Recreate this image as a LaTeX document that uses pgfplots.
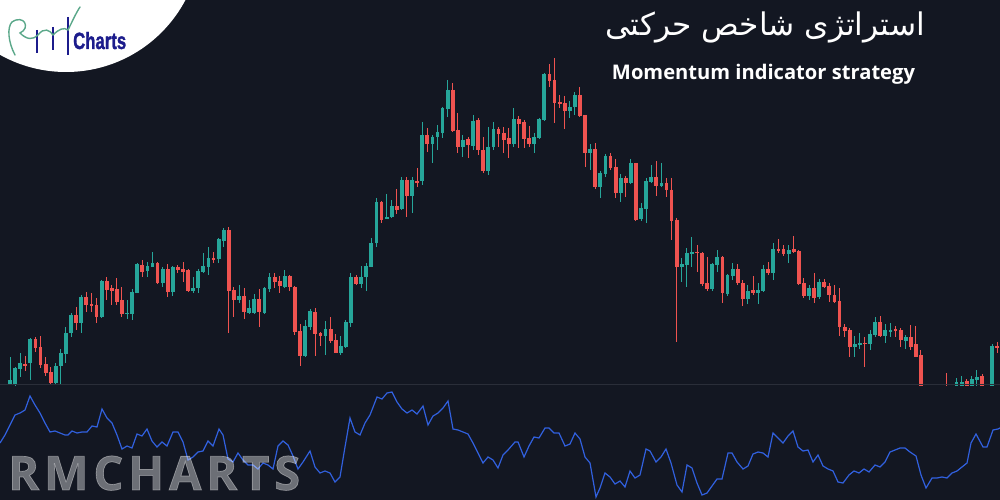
\documentclass[border=0pt]{standalone}
\usepackage{fontspec}
\usepackage{pgfplots}
\pgfplotsset{compat=1.18}
\usepackage{pgfplotstable}
\setmainfont{Open Sans}
\newfontfamily\arabicfont[Script=Arabic]{DejaVu Sans}
\newfontfamily\wmfont[LetterSpace=10, FakeBold=1.5]{Open Sans}
\newfontfamily\logofont[FakeBold=1.5]{Liberation Sans}
\TeXXeTstate=1

\definecolor{bg}{HTML}{131722}
\definecolor{upc}{HTML}{26A69A}
\definecolor{dnc}{HTML}{EF5350}
\definecolor{momc}{HTML}{3160DE}
\definecolor{sep}{HTML}{2A2E39}
\definecolor{navy}{HTML}{1C1C8C}
\definecolor{logog}{HTML}{5BA88A}

% candles in pixel rows (y grows downwards): i o h l c
\pgfplotstableread{
i o h l c
0 384 357 385 380
1 385 367 386 368
2 369 353 377 363
4 363 338 380 339
9 383 363 385 366
10 366 349 385 353
11 354 327 363 333
12 333 313 337 315
14 323 295 333 297
18 317 280 318 281
23 314 300 319 313
24 314 289 320 292
25 293 263 293 264
27 271 262 277 266
28 267 252 267 263
30 283 267 287 269
32 292 266 296 267
36 291 277 293 288
37 288 269 293 271
38 272 253 273 266
39 267 247 275 258
41 259 238 263 239
42 241 228 247 230
45 300 285 303 296
47 313 300 314 308
48 313 294 314 299
50 313 287 314 288
51 289 273 292 277
54 287 270 288 276
58 356 320 357 326
59 327 309 330 311
62 336 321 355 329
65 353 336 355 346
66 347 320 348 322
67 323 273 327 277
69 284 266 288 277
70 277 263 291 266
71 267 238 267 243
72 243 198 247 202
74 219 194 219 217
75 217 200 218 206
77 209 177 210 180
79 196 177 213 180
81 181 122 185 135
83 144 135 163 137
84 137 125 150 132
85 133 107 138 108
86 109 80 117 90
89 147 135 157 140
91 146 115 150 121
94 171 127 175 147
95 147 122 150 129
99 144 108 147 119
103 144 133 153 137
104 138 118 139 119
105 120 73 121 74
110 111 101 118 107
111 107 92 115 95
114 153 144 170 149
116 187 171 198 173
117 174 154 177 156
120 193 174 202 178
122 183 159 184 163
124 219 203 221 208
125 209 178 223 181
126 182 165 183 177
128 186 163 187 183
132 267 258 282 264
133 265 248 287 253
134 254 237 267 252
138 289 263 291 264
139 265 250 272 257
141 294 274 296 275
142 276 263 280 269
145 299 285 304 291
147 293 283 304 290
148 291 265 292 269
150 273 243 280 249
153 254 245 263 250
157 296 285 300 288
159 297 279 299 282
166 347 336 357 344
167 345 333 349 343
169 344 330 350 334
170 335 317 337 322
172 336 324 343 330
173 332 323 337 330
176 341 335 349 337
186 386 378 388 382
187 386 376 388 382
189 388 376 390 379
190 380 370 386 377
193 392 344 395 346
}\upcandles

\pgfplotstableread{
i o h l c
3 364 356 371 366
5 339 337 352 348
6 347 336 368 365
7 364 357 376 373
8 372 367 385 383
13 315 307 330 323
15 297 292 312 305
16 304 293 312 306
17 305 298 323 317
19 281 277 300 290
20 288 285 305 291
21 289 278 305 302
22 300 287 317 314
26 265 260 277 272
29 263 262 284 283
31 269 264 297 292
33 267 265 273 270
34 269 262 282 272
35 270 269 292 291
40 258 252 263 260
43 230 227 333 291
44 290 287 317 300
46 296 288 319 312
49 299 289 327 312
52 277 273 288 282
53 281 276 293 286
55 276 275 291 287
56 287 286 335 332
57 331 324 366 356
60 312 308 356 334
61 333 332 346 336
63 329 317 343 341
64 340 334 353 353
68 277 275 285 284
73 202 201 223 220
76 206 189 214 210
78 180 177 217 196
80 181 168 187 183
82 135 128 152 144
87 90 83 132 131
88 130 113 153 147
90 139 137 158 145
92 120 118 155 150
93 150 137 173 171
96 129 127 147 134
97 133 127 153 140
98 138 128 158 144
100 119 116 148 124
101 122 120 148 139
102 138 126 147 144
106 74 64 87 81
107 80 58 123 103
108 102 95 108 104
109 103 96 129 111
112 95 87 117 116
113 115 115 167 153
115 149 143 189 187
118 156 153 170 168
119 167 159 198 193
121 178 176 197 183
123 163 163 221 220
127 177 161 196 186
129 183 178 197 190
130 190 178 240 221
131 220 218 342 267
135 252 245 272 253
136 253 252 286 284
137 283 257 291 289
140 257 256 303 293
143 269 264 285 283
144 283 280 306 299
146 290 276 295 293
149 269 262 275 273
151 249 239 253 251
152 249 245 256 254
154 249 236 253 252
155 251 250 285 284
156 283 278 298 296
158 288 273 303 298
160 282 279 288 287
161 286 283 302 295
162 295 285 303 302
163 301 288 336 327
164 327 324 337 331
165 330 328 357 347
168 343 337 367 344
171 322 316 337 336
174 329 326 337 331
175 330 328 347 340
177 337 325 350 347
178 344 326 357 357
179 355 350 395 390
184 390 373 402 400
188 381 379 390 388
191 376 374 392 390
194 346 342 353 348
}\dncandles

\pgfplotsset{
  candle/.style 2 args={draw=none, forget plot,
    error bars/.cd, y dir=plus, y explicit, error mark=none,
    error bar style={draw=#1, line width=#2}},
}

\begin{document}
\begin{tikzpicture}[x=1pt,y=1pt]
\fill[bg] (0,0) rectangle (1000,500);

% price panel
\begin{axis}[at={(0pt,115pt)}, anchor=south west, scale only axis,
    width=1000pt, height=385pt,
    xmin=-1.965, xmax=194.53, ymin=0, ymax=385, y dir=reverse,
    hide axis, clip=true]
  \addplot[candle={upc}{1pt}] table[x=i, y=h, y error plus expr=\thisrow{l}-\thisrow{h}] {\upcandles};
  \addplot[candle={dnc}{1pt}] table[x=i, y=h, y error plus expr=\thisrow{l}-\thisrow{h}] {\dncandles};
  \addplot[candle={upc}{3.8pt}] table[x=i, y=c, y error plus expr=\thisrow{o}-\thisrow{c}] {\upcandles};
  \addplot[candle={dnc}{3.8pt}] table[x=i, y=o, y error plus expr=\thisrow{c}-\thisrow{o}] {\dncandles};
\end{axis}

\draw[sep, line width=1pt] (0,115) -- (1000,115);

% momentum panel
\begin{axis}[at={(0pt,0pt)}, anchor=south west, scale only axis,
    width=1000pt, height=115pt,
    xmin=0, xmax=1000, ymin=385, ymax=500, y dir=reverse,
    hide axis, clip=true]
  \addplot[momc, line width=1.2pt] coordinates {
    (0,443)(5,435)(15,415)(20,413)(25,410)(30,396)(35,405)(40,413)(45,423)
    (50,432)(55,431)(60,433)(65,435)(68,435)(72,431)(77,433)(82,432)(87,432)
    (92,426)(97,427)(102,409)(107,418)(112,423)(117,435)(122,449)(127,446)
    (132,448)(137,434)(142,436)(147,429)(152,441)(157,447)(162,442)(167,446)
    (173,432)(178,432)(183,442)(188,460)(193,457)(198,452)(203,451)(208,441)
    (213,446)(219,429)(223,435)(228,459)(233,462)(238,453)(243,460)(248,465)
    (253,465)(258,469)(263,463)(268,465)(273,469)(278,446)(283,441)(288,445)
    (293,456)(298,469)(303,462)(310,451)(315,467)(320,473)(325,471)(330,473)
    (335,482)(340,477)(345,447)(350,418)(355,432)(360,435)(365,423)(370,415)
    (377,397)(382,399)(387,393)(392,392)(397,402)(402,409)(407,413)(412,410)
    (417,414)(423,406)(428,425)(433,416)(438,413)(443,408)(448,401)(453,429)
    (458,430)(463,432)(468,434)(473,443)(478,453)(483,463)(488,457)(493,460)
    (498,468)(503,455)(508,450)(515,442)(518,442)(524,457)(529,446)(534,437)
    (539,438)(545,428)(549,428)(554,433)(559,433)(565,446)(570,444)(575,433)
    (580,439)(585,457)(590,463)(596,497)(600,488)(605,473)(610,477)(615,484)
    (620,481)(625,487)(630,471)(635,478)(640,475)(646,449)(650,451)(656,462)
    (661,457)(666,449)(671,463)(677,485)(682,492)(687,465)(692,468)(697,483)
    (702,495)(707,493)(712,486)(717,479)(722,479)(728,453)(732,453)(737,462)
    (743,469)(748,466)(753,454)(758,452)(763,453)(768,457)(773,433)(778,438)
    (783,443)(788,436)(793,431)(798,447)(803,451)(808,450)(813,462)(818,455)
    (823,466)(828,469)(833,471)(838,482)(843,483)(849,475)(854,471)(859,473)
    (864,469)(869,472)(875,465)(880,467)(885,462)(890,452)(895,450)(900,448)
    (905,448)(910,452)(916,456)(921,475)(926,488)(932,478)(937,478)(942,477)
    (947,478)(952,473)(957,471)(962,467)(967,463)(971,443)(976,434)(983,447)
    (987,447)(993,430)(998,429)(1000,428)
  };
\end{axis}

% watermark
\node[anchor=base west, inner sep=0, text=white, opacity=0.38] at (8,10)
  {\resizebox{292pt}{!}{\wmfont\bfseries RMCHARTS}};

% titles
\node[anchor=base, inner sep=0, text=white] at (765,464)
  {\resizebox{320pt}{!}{\arabicfont\beginR استراتژی شاخص حرکتی\endR}};
\node[anchor=base, inner sep=0, text=white] at (763.5,420)
  {\resizebox{303pt}{!}{\bfseries Momentum indicator strategy}};

% logo
\begin{scope}
  \clip (0,0) rectangle (1000,500);
  \fill[white] (66,563) circle (135);
  \begin{scope}[shift={(0,500)}, yscale=-1]
    \draw[navy, line width=2pt] (37,30) -- (37,53);
    \draw[navy, line width=2pt] (53,27) -- (53,50);
    \draw[navy, line width=2pt] (68,17) -- (68,55);
    \draw[logog, line width=1.4pt, line cap=round]
      (15,55) .. controls (8,42) and (7,27) .. (12,22)
      .. controls (24,14) and (31,28) .. (20,33)
      .. controls (27,40) and (33,40) .. (38,35)
      .. controls (44,27) and (50,30) .. (53,35)
      .. controls (59,29) and (64,27) .. (68,30)
      .. controls (72,22) and (76,13) .. (80,7);
  \end{scope}
  \node[anchor=base west, inner sep=0, text=navy] at (73,451)
    {\resizebox{53pt}{17pt}{\logofont\bfseries Charts}};
\end{scope}
\pgfresetboundingbox
\useasboundingbox (0,0) rectangle (1000,500);
\end{tikzpicture}
\end{document}
